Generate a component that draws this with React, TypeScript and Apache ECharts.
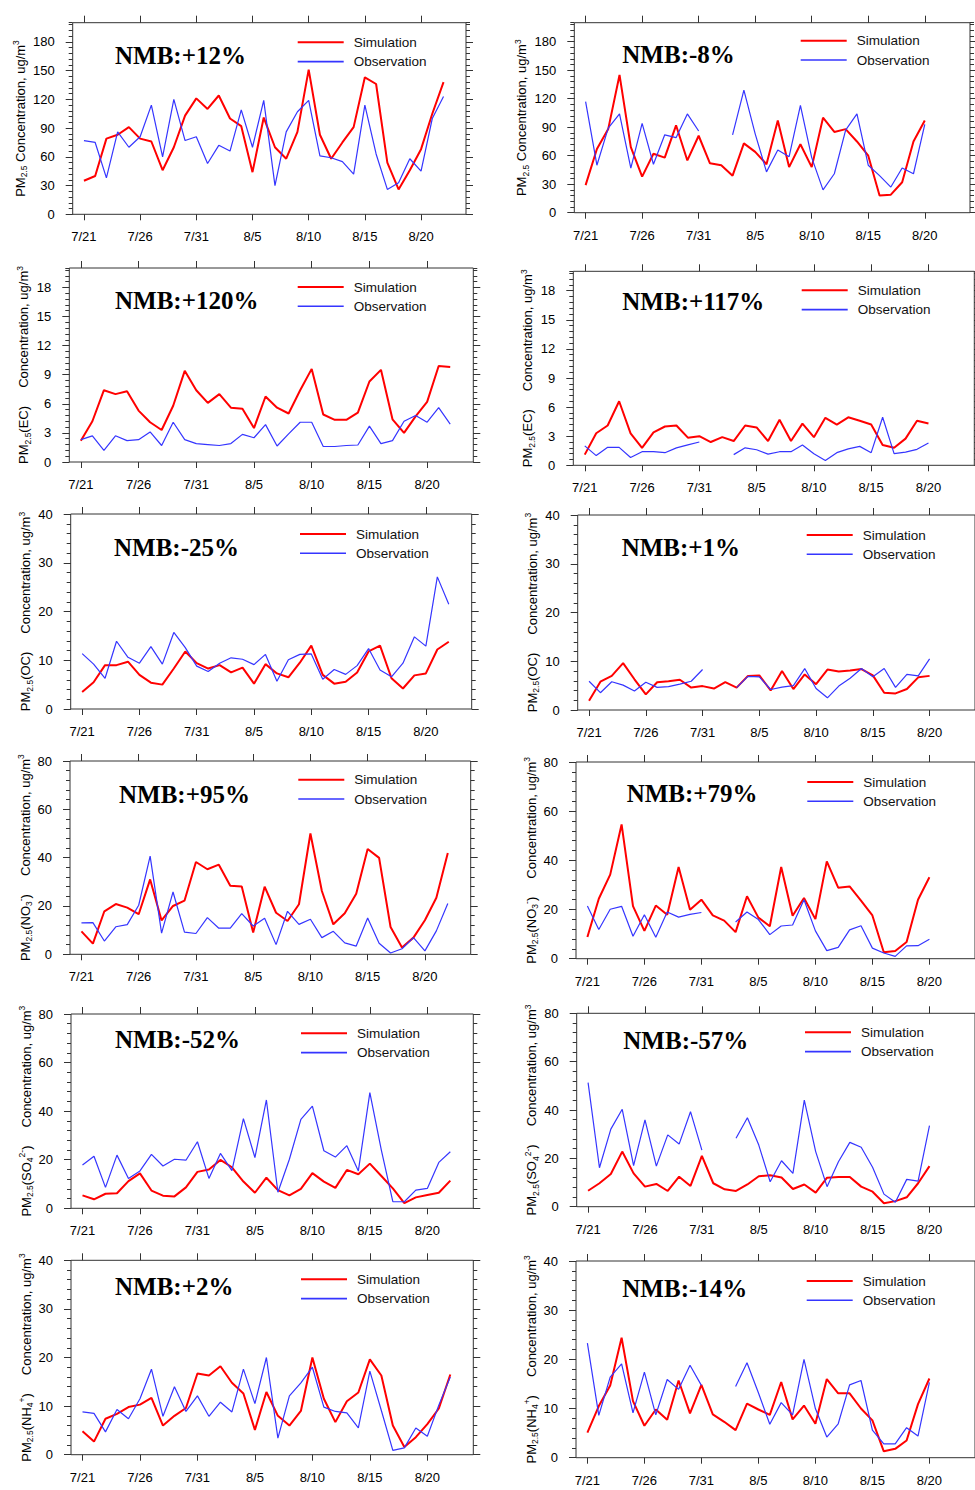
import React, { useEffect, useRef } from "react";
import * as echarts from "echarts";

// ---------- axis ticks / labels ----------
const TICK_DAYS = [0, 5, 10, 15, 20, 25, 30];
const TICK_LABELS = ["7/21", "7/26", "7/31", "8/5", "8/10", "8/15", "8/20"];
const PM25_TICKS = [0, 30, 60, 90, 120, 150, 180];
const EC_TICKS = [0, 3, 6, 9, 12, 15, 18];
const TICKS_40 = [0, 10, 20, 30, 40];
const TICKS_80 = [0, 20, 40, 60, 80];
const SERIES_NAMES = ["Simulation", "Observation"];

// ---------- data (daily, starting 7/21) ----------
const PM25_SIM_A = [35, 40, 79, 83, 91, 79, 76, 46, 70, 103, 121, 110, 124, 100, 92, 44, 101, 70, 58, 86, 151, 83, 58, 75, 91, 143, 136, 54, 26, 46, 68, 105, 138];
const PM25_OBS_A = [77, 75, 38, 86, 70, 81, 114, 60, 120, 77, 81, 53, 72, 66, 109, 70, 119, 30, 86, 107, 119, 61, 59, 55, 42, 114, 63, 26, 33, 58, 45, 100, 123];
const PM25_SIM_B = [29, 67, 88, 145, 69, 38, 62, 58, 92, 55, 81, 52, 50, 39, 73, 64, 51, 97, 48, 72, 48, 100, 85, 88, 75, 60, 18, 19, 32, 75, 97];
const PM25_OBS_B = [117, 50, 89, 104, 47, 94, 51, 82, 79, 104, 86, null, null, 82, 129, 83, 43, 66, 59, 113, 58, 24, 41, 87, 104, 50, 39, 27, 47, 41, 93];

const EC_SIM_A = [2.2, 4.2, 7.4, 7.0, 7.3, 5.3, 4.1, 3.3, 5.8, 9.4, 7.4, 6.1, 7.0, 5.6, 5.5, 3.5, 6.75, 5.6, 5.0, 7.4, 9.6, 4.9, 4.35, 4.35, 5.1, 8.3, 9.5, 4.4, 3.0, 4.7, 6.2, 9.9, 9.8];
const EC_OBS_A = [2.3, 2.7, 1.2, 2.7, 2.2, 2.3, 3.1, 1.7, 4.1, 2.3, 1.9, 1.8, 1.7, 1.9, 2.85, 2.5, 3.85, 1.65, 2.9, 4.1, 4.1, 1.6, 1.6, 1.7, 1.75, 3.7, 1.9, 2.2, 4.2, 4.8, 4.1, 5.6, 3.9];
const EC_SIM_B = [1.1, 3.3, 4.1, 6.6, 3.3, 1.8, 3.4, 4.0, 4.1, 2.85, 3.0, 2.4, 2.9, 2.5, 4.1, 3.9, 2.5, 4.7, 2.5, 4.3, 2.9, 4.9, 4.2, 4.95, 4.6, 4.2, 2.1, 1.8, 2.75, 4.6, 4.3];
const EC_OBS_B = [2.0, 1.0, 1.85, 1.85, 0.8, 1.4, 1.4, 1.3, 1.8, 2.1, 2.4, null, null, 1.1, 1.8, 1.6, 1.15, 1.4, 1.4, 2.1, 1.2, 0.5, 1.3, 1.7, 1.95, 1.3, 4.95, 1.2, 1.35, 1.65, 2.3];

const OC_SIM_A = [3.5, 5.5, 9.0, 9.0, 9.7, 7.0, 5.4, 5.0, 8.3, 11.8, 9.4, 8.3, 9.0, 7.5, 8.5, 5.2, 9.2, 7.3, 6.5, 9.5, 13.0, 7.0, 5.2, 5.6, 7.5, 11.8, 13.0, 6.3, 4.2, 6.9, 7.3, 12.2, 13.8];
const OC_OBS_A = [11.35, 9.2, 6.3, 13.9, 10.6, 9.4, 12.8, 9.2, 15.7, 12.6, 8.8, 7.7, 9.4, 10.5, 10.2, 9.1, 11.2, 5.7, 10.1, 11.2, 11.3, 6.1, 8.1, 7.1, 8.9, 12.4, 8.0, 6.6, 9.4, 14.8, 12.9, 27.1, 21.5];
const OC_SIM_B = [1.9, 5.8, 7.0, 9.6, 6.3, 3.2, 5.7, 5.9, 6.2, 4.6, 4.9, 4.4, 5.7, 4.6, 7.0, 7.1, 4.0, 8.0, 4.3, 7.3, 5.3, 8.3, 7.9, 8.1, 8.4, 7.1, 3.55, 3.4, 4.3, 6.7, 7.0];
const OC_OBS_B = [5.9, 3.55, 5.8, 5.1, 3.9, 5.7, 4.65, 4.8, 5.3, 5.9, 8.3, null, null, 4.6, 6.9, 6.8, 4.2, 4.7, 5.0, 8.5, 4.4, 2.5, 4.9, 6.5, 8.5, 6.8, 8.5, 4.65, 7.3, 7.0, 10.5];

const NO3_SIM_A = [9.5, 4.4, 17.8, 20.8, 19.3, 16.6, 31, 14, 20, 22.2, 38.2, 35.2, 37.1, 28.4, 28.1, 9, 28, 17.2, 13.8, 20.7, 50, 26.2, 12.4, 17, 25.1, 43.6, 39.9, 11.3, 2.8, 6.9, 14.1, 23.4, 41.9];
const NO3_OBS_A = [13, 13.1, 5.5, 11.4, 12.3, 20.3, 40.6, 8.8, 25.8, 9.2, 8.6, 15.2, 10.8, 10.8, 16.8, 11.7, 14.9, 4, 17.8, 12.4, 14.5, 6.9, 9.5, 4.7, 3.4, 15, 4.55, 0.55, 2.3, 6.9, 1.4, 9.7, 21];
const NO3_SIM_B = [8.8, 24.4, 34.2, 54.6, 21.4, 11.3, 21.6, 17.9, 37.3, 19.9, 24, 17.6, 15.5, 10.8, 25.4, 16.7, 13.2, 37.3, 17.5, 24.7, 16.1, 39.6, 28.9, 29.4, 23.6, 17.6, 2.6, 3.1, 6.8, 24, 33.1];
const NO3_OBS_B = [21.4, 11.9, 20.1, 21.3, 9.1, 17.9, 8.7, 19, 16.9, 18, 18.8, null, null, 14.9, 19, 15.9, 9.8, 13.3, 13.7, 24, 11.3, 3.3, 4.6, 11.7, 13.4, 4.3, 2.3, 0.95, 5.2, 5.3, 7.9];

const SO4_SIM_A = [5.3, 3.7, 6.0, 6.2, 11.2, 14.4, 7.3, 5.2, 4.9, 8.6, 15, 16, 19.9, 16.9, 11, 6.4, 12.6, 7.5, 5.3, 8, 14.5, 11, 8.4, 15.8, 14, 18.4, 13.3, 8.2, 2.1, 4.5, 5.5, 6.4, 11.4];
const SO4_OBS_A = [17.8, 21.4, 8.6, 21.9, 12.3, 15.4, 22.2, 17.4, 20.2, 19.8, 27.4, 12.3, 22.6, 15.5, 36.9, 20.9, 44.6, 6.6, 20.2, 36.6, 42.1, 23.7, 21.1, 25.8, 15.4, 47.6, 24, 2.7, 2.7, 7.5, 8.2, 18.9, 23.3];
const SO4_SIM_B = [6.6, 9.7, 13.5, 22.8, 13.8, 8.3, 9.4, 6.5, 12.4, 8.6, 21, 9.7, 7.2, 6.5, 9.2, 12.6, 13, 12.1, 7.3, 9.2, 5.8, 12, 12.3, 12.3, 8.3, 6.2, 1.4, 2.3, 3.9, 9.7, 16.8];
const SO4_OBS_B = [51.3, 16.1, 32.1, 40.3, 17, 35.9, 16.8, 29.7, 25.9, 39.3, 23.4, null, null, 28.3, 36.8, 25.5, 10.3, 19, 13.8, 44.1, 22.8, 8.3, 18.6, 26.6, 24.6, 16.3, 5.2, 1.8, 11.3, 10.6, 33.5];

const NH4_SIM_A = [4.8, 2.7, 7.4, 8.4, 9.8, 10.3, 11.7, 6.0, 8.0, 9.6, 16.7, 16.3, 18.2, 14.8, 12.6, 5.1, 12.9, 8.0, 6.0, 9.0, 20.0, 11.5, 6.7, 11.0, 12.8, 19.6, 16.3, 6.0, 1.6, 3.6, 6.3, 9.5, 16.5];
const NH4_OBS_A = [8.8, 8.5, 4.7, 9.3, 7.4, 11.5, 17.6, 7.9, 14, 8.9, 12.1, 7.9, 10.8, 8.8, 17.6, 10.5, 20, 3.4, 12.1, 14.8, 18, 9.8, 8.9, 8.6, 5.5, 17.2, 9.1, 0.9, 1.4, 5.5, 3.8, 10.2, 16];
const NH4_SIM_B = [5.1, 10.5, 14.7, 24.4, 11.5, 6.5, 9.8, 7.7, 15.7, 9.0, 14.8, 8.8, 7.3, 5.6, 11, 9.8, 8.7, 15.4, 7.8, 10.6, 6.9, 16, 13.1, 13.1, 10, 7.6, 1.3, 1.8, 3.5, 10.9, 16.1];
const NH4_OBS_B = [23.3, 8.6, 16.4, 19.1, 9.1, 17.4, 8.7, 15.9, 13.9, 18.8, 14.7, null, null, 14.5, 19.3, 13.2, 6.8, 11.2, 8.7, 20, 10, 4.2, 6.9, 14.8, 15.7, 5.6, 2.8, 2.8, 6.1, 4.4, 15.3];

const NMB_A = ["+12%", "+120%", "-25%", "+95%", "-52%", "+2%"];
const NMB_B = ["-8%", "+117%", "+1%", "+79%", "-57%", "-14%"];

// ---------- styles / layout ----------
const FONT = '"Liberation Sans", Arial, Helvetica, sans-serif';
const SERIF = '"Liberation Serif", "Times New Roman", serif';
const FRAME = "#333";
const RED = "#ff0000";
const BLUE = "#3535ff";
const GAP = "\u00a0\u00a0\u00a0\u00a0\u00a0";

const SPECIES = [
  { name: "{n|PM}{s|2.5}{n|\u00a0Concentration, ug/m}{p|3}", ticks: PM25_TICKS, max: 200, minor: 6 },
  { name: `{n|PM}{s|2.5}{n|(EC)${GAP}Concentration, ug/m}{p|3}`, ticks: EC_TICKS, max: 20, minor: 0.6 },
  { name: `{n|PM}{s|2.5}{n|(OC)${GAP}Concentration, ug/m}{p|3}`, ticks: TICKS_40, max: 40, minor: 2 },
  { name: `{n|PM}{s|2.5}{n|(NO}{s|3}{p|-}{n|)${GAP}Concentration, ug/m}{p|3}`, ticks: TICKS_80, max: 80, minor: 4 },
  { name: `{n|PM}{s|2.5}{n|(SO}{s|4}{p|2-}{n|)${GAP}Concentration, ug/m}{p|3}`, ticks: TICKS_80, max: 80, minor: 4 },
  { name: `{n|PM}{s|2.5}{n|(NH}{s|4}{p|+}{n|)${GAP}Concentration, ug/m}{p|3}`, ticks: TICKS_40, max: 40, minor: 2 },
];

const PANELS = [
  { sp: 0, sim: PM25_SIM_A, obs: PM25_OBS_A, nmb: NMB_A[0] },
  { sp: 0, sim: PM25_SIM_B, obs: PM25_OBS_B, nmb: NMB_B[0] },
  { sp: 1, sim: EC_SIM_A, obs: EC_OBS_A, nmb: NMB_A[1] },
  { sp: 1, sim: EC_SIM_B, obs: EC_OBS_B, nmb: NMB_B[1] },
  { sp: 2, sim: OC_SIM_A, obs: OC_OBS_A, nmb: NMB_A[2] },
  { sp: 2, sim: OC_SIM_B, obs: OC_OBS_B, nmb: NMB_B[2] },
  { sp: 3, sim: NO3_SIM_A, obs: NO3_OBS_A, nmb: NMB_A[3] },
  { sp: 3, sim: NO3_SIM_B, obs: NO3_OBS_B, nmb: NMB_B[3] },
  { sp: 4, sim: SO4_SIM_A, obs: SO4_OBS_A, nmb: NMB_A[4] },
  { sp: 4, sim: SO4_SIM_B, obs: SO4_OBS_B, nmb: NMB_B[4] },
  { sp: 5, sim: NH4_SIM_A, obs: NH4_OBS_A, nmb: NMB_A[5] },
  { sp: 5, sim: NH4_SIM_B, obs: NH4_OBS_B, nmb: NMB_B[5] },
];

const LAYOUT = [
  { left: 72.7, top: 22.7, width: 393.3, height: 191.6, nx: 115, ny: 42.5, lx: 297.7, ly: 42.3, gap: 44 },
  { left: 574.3, top: 22.7, width: 395.7, height: 190, nx: 622.3, ny: 41.8, lx: 800.7, ly: 40.7, gap: 44 },
  { left: 69.3, top: 268, width: 404, height: 194, nx: 115, ny: 287.5, lx: 297.7, ly: 287, gap: 37 },
  { left: 573.3, top: 271.3, width: 401, height: 194, nx: 622.3, ny: 288.8, lx: 801.7, ly: 290.3, gap: 37 },
  { left: 70.7, top: 514, width: 401, height: 195, nx: 114, ny: 534.8, lx: 300, ly: 534, gap: 36 },
  { left: 577.7, top: 515, width: 411, height: 195, nx: 621.7, ny: 535.2, lx: 806.7, ly: 535, gap: 37 },
  { left: 70, top: 761, width: 400.7, height: 193.3, nx: 119, ny: 781.8, lx: 298.3, ly: 779.7, gap: 36 },
  { left: 576, top: 762, width: 415, height: 196.7, nx: 626.7, ny: 781, lx: 807.3, ly: 782, gap: 36 },
  { left: 71, top: 1014, width: 402.3, height: 194.3, nx: 115, ny: 1027.2, lx: 301, ly: 1033.3, gap: 36 },
  { left: 576.7, top: 1013.3, width: 411, height: 193.4, nx: 623.3, ny: 1027.7, lx: 805, ly: 1032.3, gap: 36 },
  { left: 71, top: 1260.3, width: 402.3, height: 194.4, nx: 115, ny: 1273.5, lx: 301, ly: 1279.3, gap: 36 },
  { left: 576, top: 1261, width: 415, height: 196.7, nx: 622.3, ny: 1275.5, lx: 806.7, ly: 1281, gap: 36 },
];

const NAME_RICH = {
  n: { fontSize: 13, fontFamily: FONT, color: "#000", lineHeight: 17, verticalAlign: "middle" },
  s: { fontSize: 8.5, fontFamily: FONT, color: "#000", lineHeight: 8, verticalAlign: "bottom" },
  p: { fontSize: 8.5, fontFamily: FONT, color: "#000", lineHeight: 8, verticalAlign: "top" },
};

function toPoints(values: (number | null)[]) {
  return values.map((v, d) => [d, v == null ? "-" : v]);
}

function buildOption() {
  const grid: any[] = [];
  const xAxis: any[] = [];
  const yAxis: any[] = [];
  const series: any[] = [];
  const title: any[] = [];
  const graphic: any[] = [];

  PANELS.forEach((p, i) => {
    const L = LAYOUT[i];
    const S = SPECIES[p.sp];
    grid.push({
      left: L.left, top: L.top, width: L.width, height: L.height,
      show: true, borderColor: FRAME, borderWidth: 1, backgroundColor: "transparent", containLabel: false,
    });
    const xBase = {
      type: "value", gridIndex: i, min: -1, max: 34,
      axisLine: { show: false, onZero: false },
      splitLine: { show: false },
    };
    xAxis.push({
      ...xBase, position: "bottom",
      axisTick: { show: true, inside: false, length: 6, customValues: TICK_DAYS, lineStyle: { color: FRAME } },
      axisLabel: {
        show: true, customValues: TICK_DAYS, margin: 16, fontSize: 13, fontFamily: FONT, color: "#000",
        formatter: (v: number) => TICK_LABELS[TICK_DAYS.indexOf(Math.round(v))] ?? "",
      },
    });
    xAxis.push({
      ...xBase, position: "top",
      axisTick: { show: true, inside: false, length: 7, customValues: TICK_DAYS, lineStyle: { color: FRAME } },
      axisLabel: { show: false },
    });
    const yBase = {
      type: "value", gridIndex: i, min: 0, max: S.max,
      axisLine: { show: false, onZero: false },
      splitLine: { show: false },
    };
    yAxis.push({
      ...yBase, position: "left",
      axisTick: { show: true, inside: false, length: 7, customValues: S.ticks, lineStyle: { color: FRAME } },
      axisLabel: { show: true, customValues: S.ticks, margin: 18, fontSize: 13, fontFamily: FONT, color: "#000" },
      name: S.name, nameLocation: "middle", nameRotate: 90, nameGap: L.gap,
      nameTextStyle: { fontSize: 13, fontFamily: FONT, color: "#000", rich: NAME_RICH },
    });
    yAxis.push({
      ...yBase, position: "left", interval: S.minor,
      axisTick: { show: true, inside: false, length: 4, lineStyle: { color: FRAME } },
      axisLabel: { show: false },
    });
    yAxis.push({
      ...yBase, position: "right",
      axisTick: { show: true, inside: false, length: 7, customValues: S.ticks, lineStyle: { color: FRAME } },
      axisLabel: { show: false },
    });
    yAxis.push({
      ...yBase, position: "right", interval: S.minor,
      axisTick: { show: true, inside: false, length: 4, lineStyle: { color: FRAME } },
      axisLabel: { show: false },
    });
    series.push({
      type: "line", name: SERIES_NAMES[0], xAxisIndex: 2 * i, yAxisIndex: 4 * i,
      data: toPoints(p.sim), symbol: "none", showSymbol: false, connectNulls: false, silent: true,
      lineStyle: { color: RED, width: 2 }, itemStyle: { color: RED }, z: 2,
    });
    series.push({
      type: "line", name: SERIES_NAMES[1], xAxisIndex: 2 * i, yAxisIndex: 4 * i,
      data: toPoints(p.obs), symbol: "none", showSymbol: false, connectNulls: false, silent: true,
      lineStyle: { color: BLUE, width: 1.2 }, itemStyle: { color: BLUE }, z: 3,
    });
    title.push({
      text: "NMB:" + p.nmb, left: L.nx, top: L.ny, padding: 0,
      textStyle: { fontFamily: SERIF, fontWeight: "bold", fontSize: 25, color: "#000" },
    });
    // legend (line sample + label)
    const rows = [
      { y: L.ly, color: RED, w: 2, label: SERIES_NAMES[0] },
      { y: L.ly + 19.3, color: BLUE, w: 1.6, label: SERIES_NAMES[1] },
    ];
    rows.forEach((r) => {
      graphic.push({
        type: "line", silent: true,
        shape: { x1: L.lx, y1: r.y, x2: L.lx + 46, y2: r.y },
        style: { stroke: r.color, lineWidth: r.w },
      });
      graphic.push({
        type: "text", silent: true, x: L.lx + 56, y: r.y,
        style: { text: r.label, fontSize: 13.5, fontFamily: FONT, fill: "#111", align: "left", verticalAlign: "middle" },
      });
    });
  });

  return {
    animation: false,
    backgroundColor: "#ffffff",
    grid, xAxis, yAxis, series, title, graphic,
    tooltip: { show: false },
  };
}

export default function App() {
  const ref = useRef<HTMLDivElement>(null);
  useEffect(() => {
    if (!ref.current) return;
    const chart = echarts.init(ref.current, null, { renderer: "svg" });
    chart.setOption(buildOption() as any);
    return () => chart.dispose();
  }, []);
  return (
    <div
      ref={ref}
      style={{ position: "absolute", left: 0, top: 0, width: 975, height: 1490, background: "#fff" }}
    />
  );
}
